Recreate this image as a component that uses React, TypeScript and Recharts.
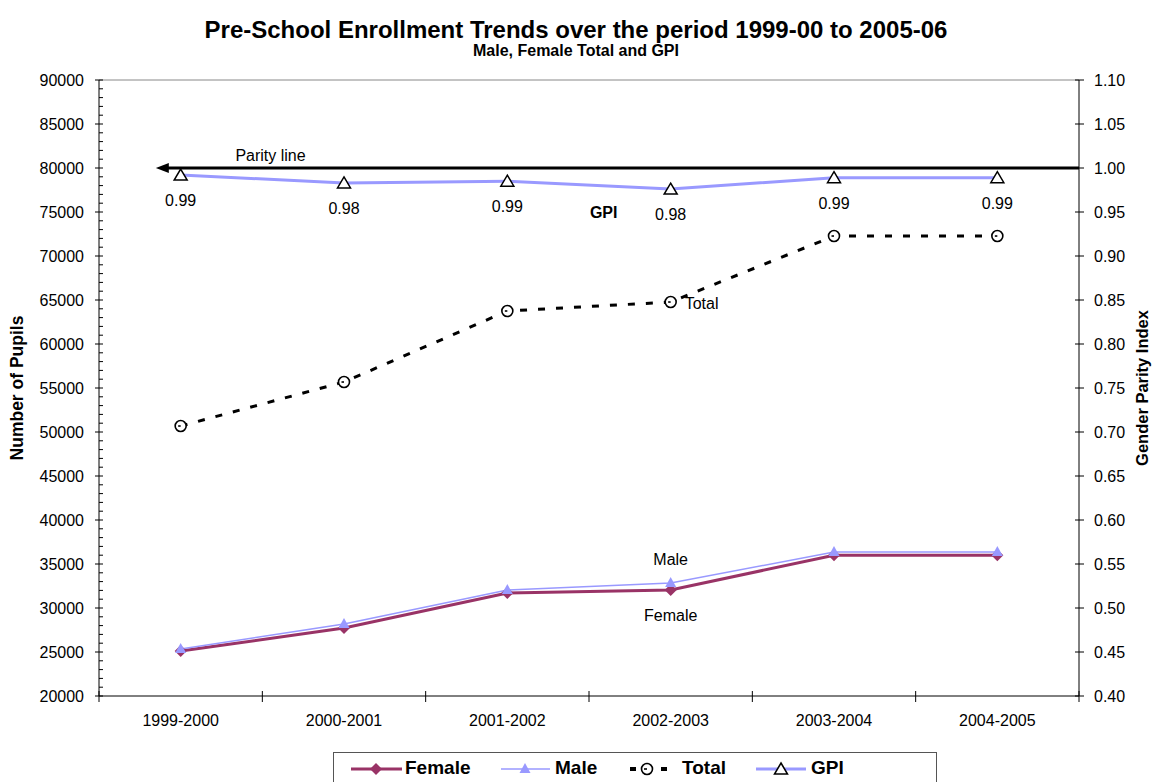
import React from 'react';
import {
  ComposedChart,
  Line,
  XAxis,
  YAxis,
  Legend,
  ReferenceLine,
  LabelList,
} from 'recharts';

const FONT = '"Liberation Sans", Arial, Helvetica, sans-serif';

const categories = ['1999-2000', '2000-2001', '2001-2002', '2002-2003', '2003-2004', '2004-2005'];
const female = [25110, 27730, 31700, 32050, 36000, 36000];
const male = [25340, 28180, 32050, 32840, 36360, 36360];
const total = [50680, 55680, 63750, 64770, 72270, 72270];
const gpi = [0.992, 0.983, 0.985, 0.976, 0.989, 0.989];
const gpiLabels = ['0.99', '0.98', '0.99', '0.98', '0.99', '0.99'];

const leftMajorTicks = [20000, 25000, 30000, 35000, 40000, 45000, 50000, 55000, 60000, 65000, 70000, 75000, 80000, 85000, 90000];
const leftAllTicks = Array.from({ length: 71 }, (_, i) => 20000 + i * 1000);
const rightTicks = [0.4, 0.45, 0.5, 0.55, 0.6, 0.65, 0.7, 0.75, 0.8, 0.85, 0.9, 0.95, 1.0, 1.05, 1.1];

const data = categories.map((cat, i) => ({
  cat,
  female: female[i],
  male: male[i],
  total: total[i],
  gpi: gpi[i],
  gpiLabel: gpiLabels[i],
}));

const W = 1152;
const H = 782;
const LEFT_W = 99;
const RIGHT_W = 73;
const BAND = (W - LEFT_W - RIGHT_W) / categories.length;

const FEMALE_C = '#993366';
const MALE_C = '#9999FF';

const LeftTick = (props: any) => {
  const { x, y, payload } = props;
  const axisX = x + 15;
  const major = leftMajorTicks.includes(payload.value);
  return (
    <g>
      {major ? (
        <>
          <line x1={axisX - 4} x2={axisX + 4} y1={y} y2={y} stroke="#000" />
          <text x={x} y={y + 5.5} textAnchor="end" fontSize={16} fontFamily={FONT} fill="#000">
            {payload.value}
          </text>
        </>
      ) : (
        <line x1={axisX} x2={axisX + 4} y1={y} y2={y} stroke="#000" />
      )}
    </g>
  );
};

const RightTick = (props: any) => {
  const { x, y, payload } = props;
  const axisX = x - 15;
  return (
    <g>
      <line x1={axisX - 4} x2={axisX + 5} y1={y} y2={y} stroke="#000" />
      <text x={x} y={y + 5.5} textAnchor="start" fontSize={16} fontFamily={FONT} fill="#000">
        {Number(payload.value).toFixed(2)}
      </text>
    </g>
  );
};

const BottomTick = (props: any) => {
  const { x, y, payload, index } = props;
  const axisY = y - 8;
  const isLast = index === categories.length - 1;
  return (
    <g>
      <line x1={x - BAND / 2} x2={x - BAND / 2} y1={axisY - 5} y2={axisY + 6} stroke="#000" />
      {isLast && <line x1={x + BAND / 2} x2={x + BAND / 2} y1={axisY - 5} y2={axisY + 6} stroke="#000" />}
      <text x={x} y={y + 22} textAnchor="middle" fontSize={16} fontFamily={FONT} fill="#000">
        {payload.value}
      </text>
    </g>
  );
};

const DiamondDot = (props: any) => {
  const { cx, cy, index } = props;
  if (cx == null || cy == null) return <g key={`fd-${index}`} />;
  return (
    <path
      key={`fd-${index}`}
      d={`M${cx},${cy - 6}L${cx + 6},${cy}L${cx},${cy + 6}L${cx - 6},${cy}Z`}
      fill={FEMALE_C}
    />
  );
};

const MaleDot = (props: any) => {
  const { cx, cy, index } = props;
  if (cx == null || cy == null) return <g key={`md-${index}`} />;
  return (
    <path
      key={`md-${index}`}
      d={`M${cx},${cy - 6}L${cx + 5.5},${cy + 4}L${cx - 5.5},${cy + 4}Z`}
      fill={MALE_C}
    />
  );
};

const TotalDot = (props: any) => {
  const { cx, cy, index } = props;
  if (cx == null || cy == null) return <g key={`td-${index}`} />;
  return (
    <g key={`td-${index}`}>
      <circle cx={cx} cy={cy} r={5.5} fill="#fff" stroke="#000" strokeWidth={1.6} />
      <line x1={cx - 2.5} x2={cx} y1={cy} y2={cy} stroke="#000" strokeWidth={1.6} />
    </g>
  );
};

const GpiDot = (props: any) => {
  const { cx, cy, index } = props;
  if (cx == null || cy == null) return <g key={`gd-${index}`} />;
  return (
    <path
      key={`gd-${index}`}
      d={`M${cx},${cy - 6}L${cx + 6.5},${cy + 5}L${cx - 6.5},${cy + 5}Z`}
      fill="#fff"
      stroke="#000"
      strokeWidth={1.5}
    />
  );
};

const ParityShape = (props: any) => {
  const { x1, x2, y1 } = props;
  const left = Math.min(x1, x2);
  const right = Math.max(x1, x2);
  const tip = left + (right - left) * 0.058;
  return (
    <g>
      <line x1={tip + 10} x2={right} y1={y1} y2={y1} stroke="#000" strokeWidth={3} />
      <path d={`M${tip},${y1}L${tip + 13},${y1 - 5}L${tip + 13},${y1 + 5}Z`} fill="#000" />
      <text
        x={left + (right - left) * 0.175}
        y={y1 - 7}
        textAnchor="middle"
        fontSize={16}
        fontFamily={FONT}
        fill="#000"
      >
        Parity line
      </text>
    </g>
  );
};

const GpiLabel = (props: any) => {
  const { x, y, value, index } = props;
  return (
    <g>
      <text x={x} y={y + 31} textAnchor="middle" fontSize={16} fontFamily={FONT} fill="#000">
        {value}
      </text>
      {index === 3 && (
        <text x={x - 67} y={y + 29} textAnchor="middle" fontSize={16} fontWeight="bold" fontFamily={FONT} fill="#000">
          GPI
        </text>
      )}
    </g>
  );
};

const TotalLabel = (props: any) => {
  const { x, y, index } = props;
  if (index !== 3) return null;
  return (
    <text x={x + 14} y={y + 7} textAnchor="start" fontSize={16} fontFamily={FONT} fill="#000">
      Total
    </text>
  );
};

const MaleLabel = (props: any) => {
  const { x, y, index } = props;
  if (index !== 3) return null;
  return (
    <text x={x} y={y - 18} textAnchor="middle" fontSize={16} fontFamily={FONT} fill="#000">
      Male
    </text>
  );
};

const FemaleLabel = (props: any) => {
  const { x, y, index } = props;
  if (index !== 3) return null;
  return (
    <text x={x} y={y + 31} textAnchor="middle" fontSize={16} fontFamily={FONT} fill="#000">
      Female
    </text>
  );
};

const LegendBox = () => {
  const itemText: React.CSSProperties = {
    position: 'absolute',
    top: 3,
    fontSize: 19,
    fontWeight: 'bold',
    fontFamily: FONT,
    lineHeight: '24px',
  };
  return (
    <div
      style={{
        position: 'relative',
        boxSizing: 'border-box',
        width: 604,
        height: 32,
        border: '1px solid #555',
        background: '#fff',
      }}
    >
      <svg width={604} height={30} style={{ position: 'absolute', left: 0, top: 0 }}>
        <line x1={17} x2={68} y1={16} y2={16} stroke={FEMALE_C} strokeWidth={3} />
        <path d="M42,10L48,16L42,22L36,16Z" fill={FEMALE_C} />
        <line x1={167} x2={216} y1={16} y2={16} stroke={MALE_C} strokeWidth={1.5} />
        <path d="M191,10L196.5,20L185.5,20Z" fill={MALE_C} />
        <rect x={296} y={14} width={6} height={4} fill="#000" />
        <circle cx={313} cy={16} r={5.5} fill="#fff" stroke="#000" strokeWidth={1.6} />
        <line x1={310} x2={313} y1={16} y2={16} stroke="#000" strokeWidth={1.6} />
        <rect x={327} y={14} width={6} height={4} fill="#000" />
        <line x1={422} x2={472} y1={16} y2={16} stroke={MALE_C} strokeWidth={3} />
        <path d="M447,10L453.5,21L440.5,21Z" fill="#fff" stroke="#000" strokeWidth={1.5} />
      </svg>
      <span style={{ ...itemText, left: 71 }}>Female</span>
      <span style={{ ...itemText, left: 221 }}>Male</span>
      <span style={{ ...itemText, left: 348 }}>Total</span>
      <span style={{ ...itemText, left: 477 }}>GPI</span>
    </div>
  );
};

export default function App() {
  return (
    <div style={{ position: 'absolute', left: 0, top: 0, width: W, height: H, background: '#fff' }}>
      <div
        style={{
          position: 'absolute',
          left: 0,
          top: 15,
          width: W,
          textAlign: 'center',
          fontFamily: FONT,
          fontWeight: 'bold',
          fontSize: 24,
          lineHeight: '30px',
          zIndex: 2,
        }}
      >
        Pre-School Enrollment Trends over the period 1999-00 to 2005-06
      </div>
      <div
        style={{
          position: 'absolute',
          left: 0,
          top: 41,
          width: W,
          textAlign: 'center',
          fontFamily: FONT,
          fontWeight: 'bold',
          fontSize: 16,
          lineHeight: '20px',
          zIndex: 2,
        }}
      >
        Male, Female Total and GPI
      </div>
      <ComposedChart
        width={W}
        height={H}
        data={data}
        margin={{ top: 80, right: 0, left: 0, bottom: 14 }}
      >
        <XAxis
          dataKey="cat"
          scale="band"
          height={40}
          stroke="#000"
          tickLine={false}
          tick={<BottomTick />}
          interval={0}
        />
        <YAxis
          yAxisId="left"
          orientation="left"
          width={LEFT_W}
          domain={[20000, 90000]}
          ticks={leftAllTicks}
          interval={0}
          stroke="#000"
          tickLine={false}
          tickSize={4}
          tickMargin={11}
          tick={<LeftTick />}
          label={{
            value: 'Number of Pupils',
            angle: -90,
            position: 'insideLeft',
            offset: 17,
            style: { textAnchor: 'middle', fontFamily: FONT, fontWeight: 'bold', fontSize: 17.5, fill: '#000' },
          }}
        />
        <YAxis
          yAxisId="right"
          orientation="right"
          width={RIGHT_W}
          domain={[0.4, 1.1]}
          ticks={rightTicks}
          interval={0}
          stroke="#000"
          tickLine={false}
          tickSize={4}
          tickMargin={11}
          tick={<RightTick />}
          label={{
            value: 'Gender Parity Index',
            angle: -90,
            position: 'insideRight',
            offset: 10,
            style: { textAnchor: 'middle', fontFamily: FONT, fontWeight: 'bold', fontSize: 16.5, fill: '#000' },
          }}
        />
        <ReferenceLine yAxisId="left" y={90000} stroke="#888" strokeWidth={1} />
        <ReferenceLine yAxisId="right" y={1} shape={<ParityShape />} />
        <Line
          yAxisId="right"
          dataKey="gpi"
          name="GPI"
          stroke={MALE_C}
          strokeWidth={3}
          dot={GpiDot}
          activeDot={false}
          isAnimationActive={false}
        >
          <LabelList dataKey="gpiLabel" content={<GpiLabel />} />
        </Line>
        <Line
          yAxisId="left"
          dataKey="total"
          name="Total"
          stroke="#000"
          strokeWidth={3}
          strokeDasharray="7 11"
          dot={TotalDot}
          activeDot={false}
          isAnimationActive={false}
        >
          <LabelList dataKey="total" content={<TotalLabel />} />
        </Line>
        <Line
          yAxisId="left"
          dataKey="female"
          name="Female"
          stroke={FEMALE_C}
          strokeWidth={3}
          dot={DiamondDot}
          activeDot={false}
          isAnimationActive={false}
        >
          <LabelList dataKey="female" content={<FemaleLabel />} />
        </Line>
        <Line
          yAxisId="left"
          dataKey="male"
          name="Male"
          stroke={MALE_C}
          strokeWidth={1.5}
          dot={MaleDot}
          activeDot={false}
          isAnimationActive={false}
        >
          <LabelList dataKey="male" content={<MaleLabel />} />
        </Line>
        <Legend
          verticalAlign="bottom"
          content={<LegendBox />}
          wrapperStyle={{ left: 333, top: 752, bottom: 'auto', width: 604, height: 32 }}
        />
      </ComposedChart>
    </div>
  );
}
